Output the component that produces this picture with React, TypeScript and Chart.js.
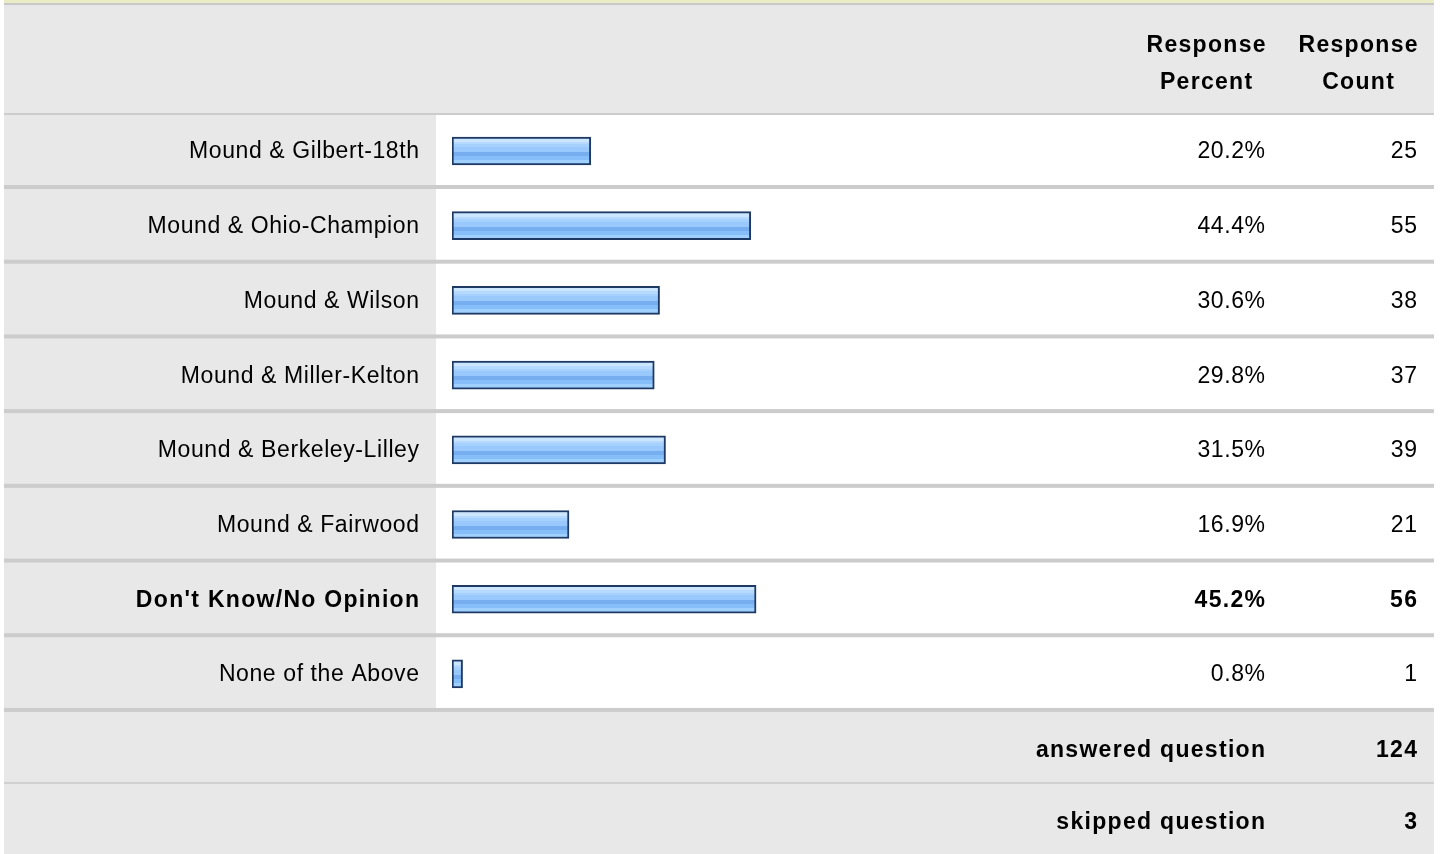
import React, { useEffect, useRef } from "react";
import { Chart, registerables } from "chart.js";

Chart.register(...registerables);

const categories: string[] = [
  "Mound & Gilbert-18th",
  "Mound & Ohio-Champion",
  "Mound & Wilson",
  "Mound & Miller-Kelton",
  "Mound & Berkeley-Lilley",
  "Mound & Fairwood",
  "Don't Know/No Opinion",
  "None of the Above",
];
const responsePercent: number[] = [20.2, 44.4, 30.6, 29.8, 31.5, 16.9, 45.2, 0.8];
const responseCount: number[] = [25, 55, 38, 37, 39, 21, 56, 1];
const boldRows: number[] = [6];
const headerPercent: string[] = ["Response", "Percent"];
const headerCount: string[] = ["Response", "Count"];
const footerLabels: string[] = ["answered question", "skipped question"];
const footerValues: number[] = [124, 3];

const FONT = '"Liberation Sans", Arial, Helvetica, sans-serif';
const REG = `23px ${FONT}`;
const BOLD = `bold 23px ${FONT}`;
const LS_REG = 0.6;
const LS_BOLD = 1.3;

function drawText(
  ctx: CanvasRenderingContext2D,
  text: string,
  x: number,
  y: number,
  bold: boolean,
  align: "right" | "center"
) {
  const ls = bold ? LS_BOLD : LS_REG;
  ctx.font = bold ? BOLD : REG;
  (ctx as any).letterSpacing = `${ls}px`;
  ctx.textAlign = align;
  ctx.textBaseline = "alphabetic";
  ctx.fillStyle = "#000000";
  const dx = align === "right" ? ls : ls / 2;
  ctx.fillText(text, x + dx, y);
  (ctx as any).letterSpacing = "0px";
}

const tablePlugin = {
  id: "surveyTable",
  beforeDraw(chart: any) {
    const ctx: CanvasRenderingContext2D = chart.ctx;
    const y = chart.scales.y;
    const W = chart.width;
    const H = chart.height;
    const L = 4;
    const R = 1434;
    const labelColRight = 436;
    const c0 = y.getPixelForValue(0);
    const cLast = y.getPixelForValue(categories.length - 1);
    ctx.save();
    ctx.fillStyle = "#ffffff";
    ctx.fillRect(0, 0, W, H);
    ctx.fillStyle = "#e9edc6";
    ctx.fillRect(L, 0, R - L, 3);
    ctx.fillStyle = "#c9c9c9";
    ctx.fillRect(L, 3, R - L, 2.5);
    ctx.fillStyle = "#e8e8e8";
    ctx.fillRect(L, 5.5, R - L, H - 5.5);
    const dataTop = c0 - 36;
    const dataBottom = cLast + 38;
    ctx.fillStyle = "#ffffff";
    ctx.fillRect(labelColRight, dataTop, R - labelColRight, dataBottom - dataTop);
    ctx.fillStyle = "#cccccc";
    ctx.fillRect(L, c0 - 38, R - L, 2);
    for (let i = 0; i < categories.length; i++) {
      const c = y.getPixelForValue(i);
      ctx.fillStyle = "#cccccc";
      ctx.fillRect(L, c + 34, R - L, 4);
    }
    ctx.fillStyle = "#d0d0d0";
    ctx.fillRect(L, dataBottom + 70, R - L, 2);
    ctx.restore();
  },
  afterDraw(chart: any) {
    const ctx: CanvasRenderingContext2D = chart.ctx;
    const y = chart.scales.y;
    const labelRight = 419;
    const pctRight = 1265;
    const countRight = 1417;
    const pctCenter = 1206;
    const countCenter = 1358;
    ctx.save();
    const c0 = y.getPixelForValue(0);
    drawText(ctx, headerPercent[0], pctCenter, c0 - 99, true, "center");
    drawText(ctx, headerPercent[1], pctCenter, c0 - 62, true, "center");
    drawText(ctx, headerCount[0], countCenter, c0 - 99, true, "center");
    drawText(ctx, headerCount[1], countCenter, c0 - 62, true, "center");
    categories.forEach((label, i) => {
      const c = y.getPixelForValue(i);
      const bold = boldRows.includes(i);
      const base = c + 7.5;
      drawText(ctx, label, labelRight, base, bold, "right");
      drawText(ctx, responsePercent[i].toFixed(1) + "%", pctRight, base, bold, "right");
      drawText(ctx, String(responseCount[i]), countRight, base, bold, "right");
    });
    const cLast = y.getPixelForValue(categories.length - 1);
    const dataBottom = cLast + 38;
    footerLabels.forEach((label, i) => {
      const rowTop = dataBottom + i * 72;
      const base = rowTop + 37 + 8;
      drawText(ctx, label, pctRight, base, true, "right");
      drawText(ctx, String(footerValues[i]), countRight, base, true, "right");
    });
    ctx.restore();
  },
};

function barGradient(context: any) {
  const chart = context.chart;
  const y = chart.scales && chart.scales.y;
  if (!y || context.type !== "data") return "#8cc2fa";
  const c = y.getPixelForValue(context.dataIndex);
  if (!Number.isFinite(c)) return "#8cc2fa";
  const top = c - 14;
  const g = chart.ctx.createLinearGradient(0, top, 0, top + 28);
  const stops: [number, string][] = [
    [0, "#cce6ff"],
    [5 / 28, "#cce6ff"],
    [5 / 28, "#b6daff"],
    [7.5 / 28, "#b6daff"],
    [7.5 / 28, "#a6d0fe"],
    [10 / 28, "#a6d0fe"],
    [10 / 28, "#98c8fc"],
    [15 / 28, "#98c8fc"],
    [15 / 28, "#76aeef"],
    [19 / 28, "#76aeef"],
    [19 / 28, "#86befa"],
    [23 / 28, "#86befa"],
    [23 / 28, "#a0d0ff"],
    [1, "#a0d0ff"],
  ];
  stops.forEach(([o, col]) => g.addColorStop(o, col));
  return g;
}

export default function App() {
  const canvasRef = useRef<HTMLCanvasElement | null>(null);

  useEffect(() => {
    if (!canvasRef.current) return;
    const chart = new Chart(canvasRef.current, {
      type: "bar",
      data: {
        labels: categories,
        datasets: [
          {
            data: responsePercent,
            base: -0.8,
            backgroundColor: barGradient,
            borderColor: "#1e3a64",
            borderWidth: 2,
            borderSkipped: false,
            barThickness: 28,
          } as any,
        ],
      },
      options: {
        indexAxis: "y",
        animation: false,
        responsive: false,
        devicePixelRatio: 1,
        events: [],
        layout: {
          padding: { left: 452, right: 1440 - 1118.3, top: 113.64, bottom: 854 - 711.3 },
        },
        scales: {
          x: { type: "linear", min: -0.8, max: 100, display: false },
          y: { type: "category", display: false, offset: true },
        },
        plugins: {
          legend: { display: false },
          tooltip: { enabled: false },
          title: { display: false },
        },
      },
      plugins: [tablePlugin],
    });
    return () => chart.destroy();
  }, []);

  return (
    <div style={{ position: "absolute", left: 0, top: 0, width: 1440, height: 854 }}>
      <canvas ref={canvasRef} width={1440} height={854} style={{ display: "block" }} />
    </div>
  );
}
